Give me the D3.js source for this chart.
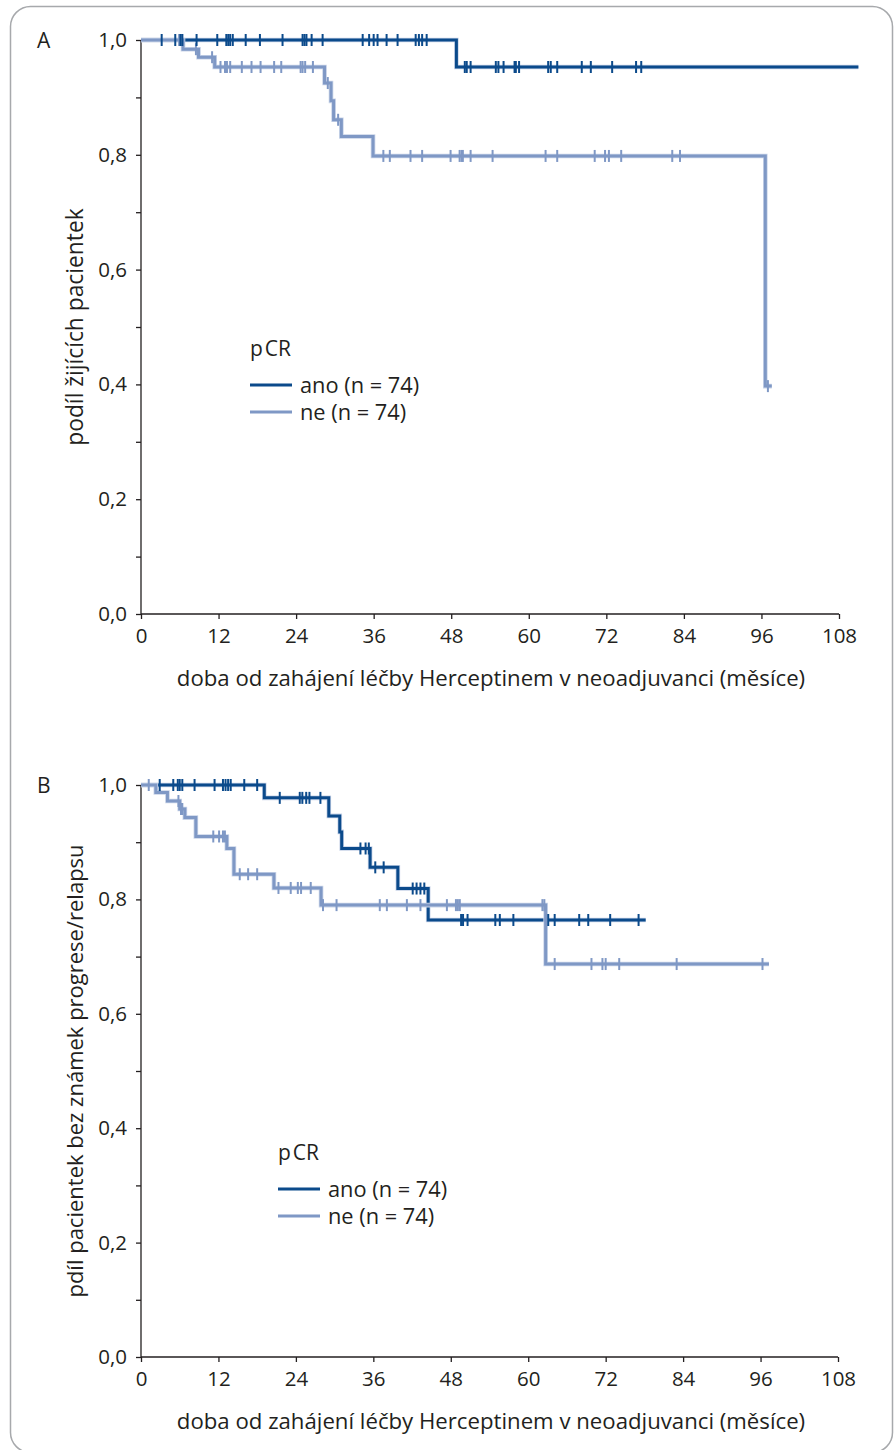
<!DOCTYPE html>
<head>
<meta charset="utf-8">
<title>pCR - prezivani</title>
<script src="https://cdn.jsdelivr.net/npm/d3@7"></script>
<style>
  body { margin: 0; background: #fff; }
  svg text { font-family: "Open Sans", "Noto Sans", sans-serif; fill: #231f20; }
</style>
</head>
<body>
<svg id="chart" width="896" height="1450"></svg>
<script>
var xTicks = [0, 12, 24, 36, 48, 60, 72, 84, 96, 108]
var yTicks = [0, 0.1, 0.2, 0.3, 0.4, 0.5, 0.6, 0.7, 0.8, 0.9, 1.0]
var groups = ['ano (n = 74)', 'ne (n = 74)']
var xTitle = 'doba od zahájení léčby Herceptinem v neoadjuvanci (měsíce)'

// panel A - celkove preziti
var aAnoSteps = [[0, 1], [48.8, 0.953]]
var aAnoEnd = 111
var aAnoCens = [3.2, 5.3, 6.1, 6.4, 8.6, 11.8, 13.2, 13.5, 13.8, 14.2, 16.2, 18.4, 21.9, 25.0, 25.3, 25.6, 26.4, 28.1,
  34.3, 35.3, 36.0, 36.6, 38.0, 39.7, 42.5, 43.0, 43.5, 44.2,
  50.1, 50.4, 51.0, 54.9, 55.3, 56.1, 57.8, 58.0, 58.5, 63.0, 63.4, 64.4, 68.2, 69.6, 72.9, 76.6, 77.4]
var aNeSteps = [[0, 1], [6.5, 0.984], [8.9, 0.970], [11.4, 0.953], [28.4, 0.925], [29.4, 0.894], [29.8, 0.861],
  [31.0, 0.832], [35.9, 0.798], [96.6, 0.397]]
var aNeEnd = 97.6
var aNeCens = [5.9, 6.2, 8.5, 11.0, 12.3, 13.0, 13.3, 13.8, 15.6, 17.1, 18.5, 20.6, 21.7, 24.7, 25.0, 25.4, 26.6,
  28.9, 30.5, 37.5, 38.5, 41.7, 43.5, 47.9, 49.3, 49.6, 49.8, 51.0, 54.4, 62.6, 64.4, 70.2, 71.8, 72.4, 74.3,
  82.2, 83.4, 97.0]

// panel B - preziti bez progrese
var bAnoSteps = [[0, 1], [19.1, 0.9775], [29.1, 0.946], [30.8, 0.918], [31.1, 0.889], [35.5, 0.856],
  [39.8, 0.819], [44.5, 0.764]]
var bAnoEnd = 78.2
var bAnoCens = [2.9, 5.0, 5.7, 6.0, 6.4, 8.3, 11.4, 12.7, 13.1, 13.5, 13.9, 16.0, 18.0, 21.5, 24.6, 25.0, 25.6,
  26.1, 27.8, 34.0, 34.8, 35.3, 36.3, 37.6, 42.1, 42.7, 43.3, 43.9, 49.6, 49.9, 50.6, 54.9, 55.6, 57.7, 63.1,
  64.1, 67.9, 69.3, 72.7, 77.1]
var bNeSteps = [[0, 1], [2.3, 0.987], [4.1, 0.972], [6.0, 0.958], [6.8, 0.943], [8.5, 0.910], [13.3, 0.889],
  [14.4, 0.844], [20.6, 0.820], [27.9, 0.790], [62.7, 0.687]]
var bNeEnd = 97.3
var bNeCens = [1.2, 5.8, 6.2, 6.4, 11.2, 12.1, 12.7, 13.0, 15.3, 16.6, 18.0, 21.3, 23.2, 24.3, 24.8, 26.3,
  28.2, 30.3, 37.0, 38.1, 41.2, 43.3, 47.4, 48.8, 49.1, 49.4, 62.2, 62.5, 64.1, 69.8, 71.5, 72.0, 74.1, 83.0, 96.3]

var dark = '#0b4a8b', light = '#7f98c5'

var svg = d3.select('#chart')

svg.append('rect')
  .attr('x', 10.5).attr('y', 6.5)
  .attr('width', 882).attr('height', 1446)
  .attr('rx', 20)
  .attr('fill', 'none')
  .attr('stroke', '#a7a9ac')
  .attr('stroke-width', 1.5)

function survAt(steps, t) {
  var s = steps[0][1]
  steps.forEach(function (d) { if (d[0] <= t) s = d[1] })
  return s
}

function panel(o) {
  var x = d3.scaleLinear().domain([0, 108]).range([141, o.right])
  var y = d3.scaleLinear().domain([0, 1]).range([o.bottom, o.top])
  var g = svg.append('g')

  g.append('text').attr('x', 37).attr('y', o.top + 8).attr('font-size', 21).text(o.letter)

  var yAxis = g.append('g').attr('transform', 'translate(141,0)')
    .call(d3.axisLeft(y).tickValues(yTicks).tickSize(5).tickPadding(9)
      .tickFormat(function (d) { return Math.round(d * 10) % 2 ? '' : d3.format('.1f')(d).replace('.', ',') }))
  var xAxis = g.append('g').attr('transform', 'translate(0,' + o.bottom + ')')
    .call(d3.axisBottom(x).tickValues(xTicks).tickSize(5).tickPadding(9))
  ;[xAxis, yAxis].forEach(function (a) {
    a.select('.domain').attr('stroke', '#231f20').attr('stroke-width', 1.3)
    a.selectAll('.tick line').attr('stroke', '#231f20').attr('stroke-width', 1.3)
    a.selectAll('text').attr('font-size', 20.5).attr('font-family', '"Open Sans", sans-serif').attr('fill', '#231f20')
  })
  yAxis.select('.domain').attr('d', 'M0,' + o.bottom + 'V' + o.top)
  xAxis.select('.domain').attr('d', 'M141,0H' + o.right)

  g.append('text')
    .attr('x', 491).attr('y', o.bottom + 72)
    .attr('text-anchor', 'middle').attr('font-size', 22.2)
    .text(xTitle)
  g.append('text')
    .attr('transform', 'translate(83,' + (o.top + o.bottom) / 2 + ') rotate(-90)')
    .attr('text-anchor', 'middle').attr('font-size', o.ysize)
    .text(o.ylabel)

  var line = d3.line().curve(d3.curveStepAfter)
    .x(function (d) { return x(d[0]) }).y(function (d) { return y(d[1]) })

  var series = [
    { steps: o.anoSteps, end: o.anoEnd, cens: o.anoCens, color: dark },
    { steps: o.neSteps, end: o.neEnd, cens: o.neCens, color: light }
  ]
  series.forEach(function (s) {
    var pts = s.steps.concat([[s.end, s.steps[s.steps.length - 1][1]]])
    g.append('path').attr('d', line(pts)).attr('fill', 'none')
      .attr('stroke', '#c9d4e8').attr('stroke-width', 4.6)
    g.append('path').attr('d', line(pts)).attr('fill', 'none')
      .attr('stroke', s.color).attr('stroke-width', 3)
  })
  series.slice().reverse().forEach(function (s) {
    g.selectAll(null).data(s.cens).enter().append('line')
      .attr('x1', function (d) { return x(d) }).attr('x2', function (d) { return x(d) })
      .attr('y1', function (d) { return y(survAt(s.steps, d)) - 6 })
      .attr('y2', function (d) { return y(survAt(s.steps, d)) + 6 })
      .attr('stroke', s.color).attr('stroke-width', 2)
  })

  var lg = g.append('g').attr('transform', 'translate(' + o.legX + ',' + o.legY + ')')
  lg.append('text').attr('x', 0).attr('y', 8).attr('font-size', 21).text('p').append('tspan').attr('dx', 2).text('CR')
  groups.forEach(function (name, i) {
    lg.append('line').attr('x1', 0).attr('x2', 42)
      .attr('y1', 37 + i * 27).attr('y2', 37 + i * 27)
      .attr('stroke', i ? light : dark).attr('stroke-width', 3)
    lg.append('text').attr('x', 50).attr('y', 45 + i * 27).attr('font-size', 21.8).text(name)
  })
}

panel({ letter: 'A', top: 40, bottom: 614, right: 839, ylabel: 'podíl žijících pacientek', ysize: 22.8,
  anoSteps: aAnoSteps, anoEnd: aAnoEnd, anoCens: aAnoCens,
  neSteps: aNeSteps, neEnd: aNeEnd, neCens: aNeCens, legX: 250, legY: 348 })

panel({ letter: 'B', top: 785, bottom: 1357, right: 838, ylabel: 'pdíl pacientek bez známek progrese/relapsu', ysize: 22,
  anoSteps: bAnoSteps, anoEnd: bAnoEnd, anoCens: bAnoCens,
  neSteps: bNeSteps, neEnd: bNeEnd, neCens: bNeCens, legX: 278, legY: 1152 })
</script>
</body>
